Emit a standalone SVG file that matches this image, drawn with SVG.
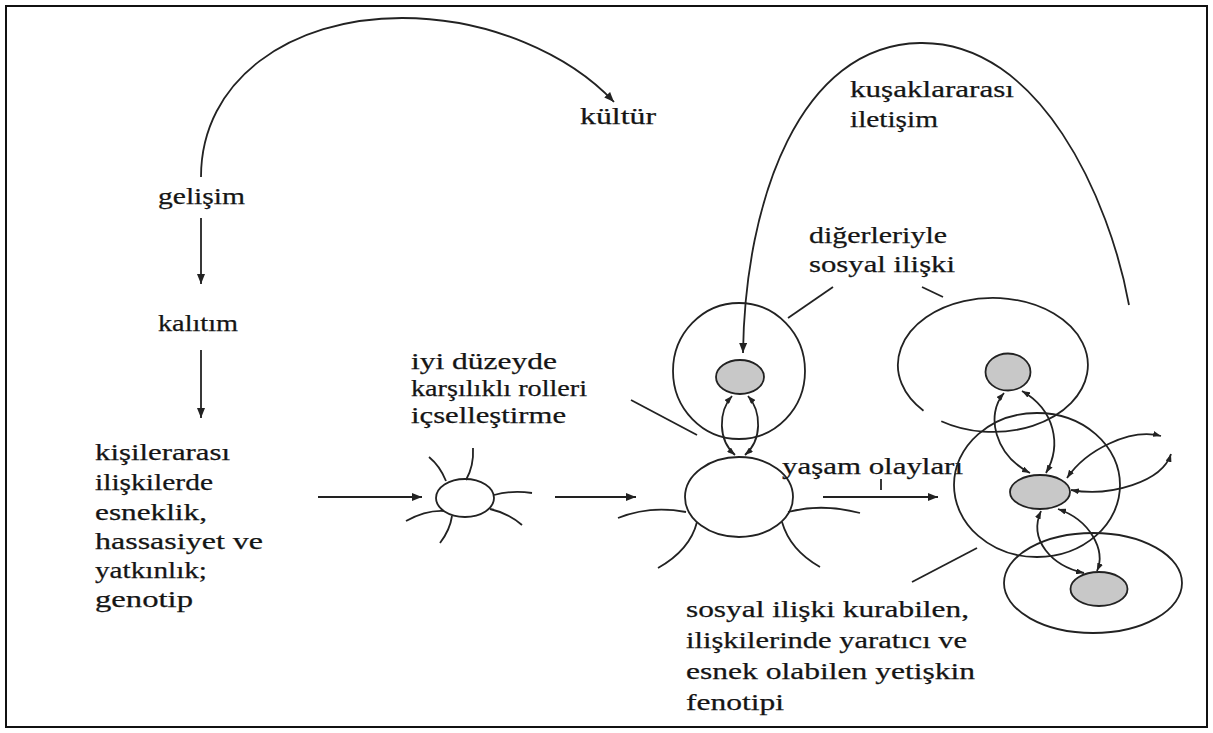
<svg xmlns="http://www.w3.org/2000/svg" width="1213" height="733" viewBox="0 0 1213 733">
<defs>
<style>
.t{font-family:"Liberation Serif","Times New Roman",serif;font-size:24px;fill:#151515;stroke:#151515;stroke-width:0.25}
.ln{fill:none;stroke:#222;stroke-width:1.8}
.gray{fill:#c8c8c8;stroke:#222;stroke-width:1.8}
.ring{fill:none;stroke:#222;stroke-width:1.8}
</style>
<marker id="ah" viewBox="0 0 10 8" refX="10" refY="4" markerWidth="10" markerHeight="8" markerUnits="userSpaceOnUse" orient="auto-start-reverse"><path d="M0,0 L10,4 L0,8 z" fill="#222"/></marker>
<marker id="sh" viewBox="0 0 8 6" refX="8" refY="3" markerWidth="8" markerHeight="6" markerUnits="userSpaceOnUse" orient="auto-start-reverse"><path d="M0,0 L8,3 L0,6 z" fill="#222"/></marker>
</defs>
<rect x="6" y="6" width="1201" height="721" fill="#fff" stroke="#111" stroke-width="2"/>

<g id="connectors">
<path class="ln" d="M201,177 C201,80 290,18 402,18 C490,18 570,55 614,102" marker-end="url(#ah)"/>
<path class="ln" d="M201,218 L201,284" marker-end="url(#ah)"/>
<path class="ln" d="M201,350 L201,418" marker-end="url(#ah)"/>
<path class="ln" d="M318,497 L422,497" marker-end="url(#ah)"/>
<path class="ln" d="M555,497 L636,497" marker-end="url(#ah)"/>
<path class="ln" d="M823,497 L938,497" marker-end="url(#ah)"/>
<path class="ln" d="M881,479 L881,490"/>
<path class="ln" d="M1129,305 C1110,200 1040,41 920,43 C800,45 745,200 743,353" marker-end="url(#ah)"/>
<path class="ln" d="M833,287 L788,318"/>
<path class="ln" d="M922,287 L943,297"/>
<path class="ln" d="M631,400 L697,435"/>
<path class="ln" d="M977,548 L912,582"/>
<path class="ln" d="M732,396 C718,412 718,440 735,455" marker-start="url(#sh)" marker-end="url(#sh)"/>
<path class="ln" d="M748,396 C762,412 762,440 745,455" marker-start="url(#sh)" marker-end="url(#sh)"/>
<path class="ln" d="M1004,393 C985,415 995,455 1030,473" marker-start="url(#sh)" marker-end="url(#sh)"/>
<path class="ln" d="M1022,391 C1055,410 1062,445 1046,473" marker-start="url(#sh)" marker-end="url(#sh)"/>
<path class="ln" d="M1041,511 C1028,540 1052,566 1084,573" marker-start="url(#sh)" marker-end="url(#sh)"/>
<path class="ln" d="M1058,509 C1090,520 1106,550 1097,571" marker-start="url(#sh)" marker-end="url(#sh)"/>
<path class="ln" d="M1067,478 C1086,450 1130,428 1161,436" marker-start="url(#sh)" marker-end="url(#sh)"/>
<path class="ln" d="M1071,490 C1110,497 1162,482 1171,454" marker-start="url(#sh)" marker-end="url(#sh)"/>
</g>

<g id="node-kultur"><text class="t" x="580" y="124" textLength="76" lengthAdjust="spacingAndGlyphs">kültür</text></g>
<g id="node-gelisim"><text class="t" x="158" y="204" textLength="87" lengthAdjust="spacingAndGlyphs">gelişim</text></g>
<g id="node-kalitim"><text class="t" x="158" y="331" textLength="80" lengthAdjust="spacingAndGlyphs">kalıtım</text></g>
<g id="node-genotip">
<text class="t" x="95" y="460" textLength="135" lengthAdjust="spacingAndGlyphs">kişilerarası</text>
<text class="t" x="95" y="490" textLength="118" lengthAdjust="spacingAndGlyphs">ilişkilerde</text>
<text class="t" x="95" y="520" textLength="112" lengthAdjust="spacingAndGlyphs">esneklik,</text>
<text class="t" x="95" y="549" textLength="168" lengthAdjust="spacingAndGlyphs">hassasiyet ve</text>
<text class="t" x="95" y="578" textLength="112" lengthAdjust="spacingAndGlyphs">yatkınlık;</text>
<text class="t" x="95" y="607" textLength="98" lengthAdjust="spacingAndGlyphs">genotip</text>
</g>

<g id="node-sun">
<ellipse class="ring" cx="465" cy="498" rx="29" ry="19"/>
<path class="ln" d="M429,457 Q440,466 446,481"/>
<path class="ln" d="M473,448 Q474,466 466,480"/>
<path class="ln" d="M494,495 Q512,490 532,493"/>
<path class="ln" d="M490,509 Q508,513 522,525"/>
<path class="ln" d="M406,521 Q426,510 444,511"/>
<path class="ln" d="M440,543 Q450,530 452,516"/>
</g>
<g id="label-iyi">
<text class="t" x="411" y="369" textLength="146" lengthAdjust="spacingAndGlyphs">iyi düzeyde</text>
<text class="t" x="411" y="396" textLength="176" lengthAdjust="spacingAndGlyphs">karşılıklı rolleri</text>
<text class="t" x="411" y="423" textLength="155" lengthAdjust="spacingAndGlyphs">içselleştirme</text>
</g>

<g id="node-person">
<ellipse class="ring" cx="739" cy="371" rx="66" ry="68"/>
<ellipse class="gray" cx="740" cy="377" rx="24" ry="17"/>
<ellipse class="ring" cx="739" cy="497" rx="54" ry="40"/>
<path class="ln" d="M618,518 Q650,505 686,512"/>
<path class="ln" d="M697,522 Q690,550 658,568"/>
<path class="ln" d="M788,512 Q822,503 860,513"/>
<path class="ln" d="M782,522 Q790,550 820,567"/>
</g>

<g id="label-diger">
<text class="t" x="809" y="243" textLength="138" lengthAdjust="spacingAndGlyphs">diğerleriyle</text>
<text class="t" x="809" y="272" textLength="146" lengthAdjust="spacingAndGlyphs">sosyal ilişki</text>
</g>
<g id="label-kusak">
<text class="t" x="850" y="97" textLength="164" lengthAdjust="spacingAndGlyphs">kuşaklararası</text>
<text class="t" x="850" y="127" textLength="88" lengthAdjust="spacingAndGlyphs">iletişim</text>
</g>
<g id="label-yasam"><text class="t" x="782" y="474" textLength="181" lengthAdjust="spacingAndGlyphs">yaşam olayları</text></g>

<g id="node-cluster">
<path class="ring" d="M941.3,421.2 A95,67 0 1 0 923.5,410.7"/>
<ellipse class="gray" cx="1008" cy="372" rx="22.5" ry="18.5"/>
<ellipse class="ring" cx="1037" cy="485" rx="83" ry="72"/>
<ellipse class="gray" cx="1040" cy="492" rx="30" ry="17"/>
<ellipse class="ring" cx="1093" cy="583" rx="89" ry="50"/>
<ellipse class="gray" cx="1099" cy="589" rx="28.5" ry="17"/>
</g>

<g id="label-fenotip">
<text class="t" x="686" y="617" textLength="283" lengthAdjust="spacingAndGlyphs">sosyal ilişki kurabilen,</text>
<text class="t" x="686" y="648" textLength="281" lengthAdjust="spacingAndGlyphs">ilişkilerinde yaratıcı ve</text>
<text class="t" x="686" y="679" textLength="289" lengthAdjust="spacingAndGlyphs">esnek olabilen yetişkin</text>
<text class="t" x="686" y="710" textLength="98" lengthAdjust="spacingAndGlyphs">fenotipi</text>
</g>
</svg>
